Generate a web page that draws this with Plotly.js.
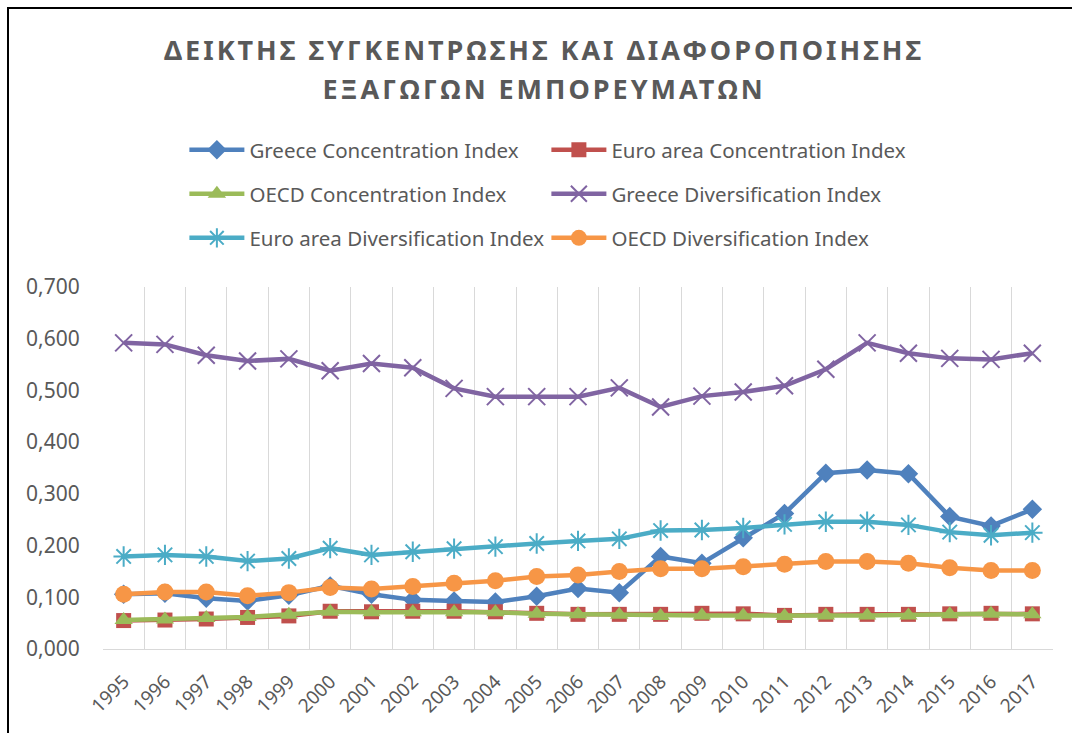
<!DOCTYPE html>
<html>
<head>
<meta charset="utf-8">
<script src="https://cdn.plot.ly/plotly-3.0.1.min.js"></script>
<style>
  html, body { margin: 0; padding: 0; background: #fff; overflow: hidden; }
  #chart { width: 1072px; height: 733px; position: absolute; left: 0; top: 0; }
  #frame { position: absolute; left: 7px; top: 7px; width: 2000px; height: 2000px;
           border-left: 2px solid #000; border-top: 2px solid #000; pointer-events: none; }
  .gtitle { letter-spacing: 3px; }
</style>
</head>
<body>
<div id="chart"></div>
<div id="frame"></div>
<script>
const years = [1995,1996,1997,1998,1999,2000,2001,2002,2003,2004,2005,2006,2007,2008,2009,2010,2011,2012,2013,2014,2015,2016,2017];
const yearLabels = years.map(String);

const greeceConcentration = [0.106,0.108,0.098,0.093,0.104,0.122,0.106,0.095,0.093,0.091,0.102,0.117,0.109,0.179,0.166,0.215,0.262,0.340,0.346,0.339,0.256,0.238,0.270];
const euroConcentration   = [0.055,0.056,0.058,0.061,0.064,0.073,0.072,0.073,0.073,0.072,0.069,0.067,0.067,0.067,0.069,0.068,0.065,0.067,0.067,0.067,0.068,0.069,0.068];
const oecdConcentration   = [0.056,0.057,0.060,0.062,0.066,0.072,0.071,0.071,0.071,0.071,0.068,0.067,0.066,0.064,0.065,0.065,0.064,0.065,0.065,0.065,0.067,0.068,0.067];
const greeceDiversification = [0.592,0.589,0.568,0.557,0.561,0.538,0.552,0.544,0.504,0.488,0.488,0.488,0.505,0.468,0.489,0.497,0.509,0.541,0.592,0.572,0.562,0.560,0.572];
const euroDiversification   = [0.179,0.182,0.179,0.170,0.175,0.195,0.182,0.188,0.194,0.198,0.204,0.209,0.213,0.229,0.230,0.234,0.241,0.246,0.246,0.240,0.226,0.220,0.225];
const oecdDiversification   = [0.106,0.110,0.110,0.103,0.109,0.119,0.116,0.121,0.127,0.132,0.140,0.143,0.150,0.155,0.155,0.159,0.164,0.169,0.169,0.166,0.157,0.152,0.152];

const seriesNames = [
  'Greece Concentration Index',
  'Euro area Concentration Index',
  'OECD Concentration Index',
  'Greece Diversification Index',
  'Euro area Diversification Index',
  'OECD Diversification Index'
];

const LW = 4.5;
function tr(name, y, color, marker, legend) {
  return {
    type: 'scatter', mode: 'lines+markers', name: name, x: years, y: y,
    line: { color: color, width: LW },
    marker: Object.assign({ color: color }, marker),
    legend: legend,
    hoverinfo: 'skip'
  };
}

const traces = [
  tr(seriesNames[0], greeceConcentration, '#4F81BD', { symbol: 'diamond', size: 15 }, 'legend'),
  tr(seriesNames[1], euroConcentration, '#C0504D', { symbol: 'square', size: 15 }, 'legend'),
  tr(seriesNames[2], oecdConcentration, '#9BBB59', { symbol: 'triangle-up', size: 16 }, 'legend2'),
  tr(seriesNames[3], greeceDiversification, '#8064A2', { symbol: 'x-thin-open', size: 17, line: { color: '#8064A2', width: 2 } }, 'legend2'),
  tr(seriesNames[4], euroDiversification, '#4BACC6', { symbol: 'asterisk-open', size: 17, line: { color: '#4BACC6', width: 2 } }, 'legend3'),
  tr(seriesNames[5], oecdDiversification, '#F79646', { symbol: 'circle', size: 17 }, 'legend3')
];

const legendFont = { family: 'Noto Sans, Open Sans, sans-serif', size: 20.5, color: '#595959' };
function leg(y) {
  return {
    orientation: 'h', xref: 'container', yref: 'container',
    x: 0.172, xanchor: 'left', y: y, yanchor: 'middle',
    entrywidth: 292, entrywidthmode: 'pixels', itemwidth: 55,
    font: legendFont, bgcolor: 'rgba(0,0,0,0)', traceorder: 'normal'
  };
}

const layout = {
  width: 1072, height: 733,
  margin: { l: 103, r: 19, t: 287, b: 84 },
  paper_bgcolor: '#ffffff', plot_bgcolor: '#ffffff',
  separators: ',.',
  showlegend: true,
  title: {
    text: 'ΔΕΙΚΤΗΣ ΣΥΓΚΕΝΤΡΩΣΗΣ ΚΑΙ ΔΙΑΦΟΡΟΠΟΙΗΣΗΣ<br>ΕΞΑΓΩΓΩΝ ΕΜΠΟΡΕΥΜΑΤΩΝ',
    font: { family: 'Noto Sans, Open Sans, sans-serif', size: 27, color: '#595959', weight: 'bold' },
    x: 0.5075, xanchor: 'center', xref: 'container',
    y: 1 - 60 / 733, yanchor: 'top', yref: 'container'
  },
  xaxis: {
    range: [1994.5, 2017.5],
    tickmode: 'array', tickvals: years, ticktext: yearLabels,
    tickangle: -45,
    tickfont: { family: 'Noto Sans, Open Sans, sans-serif', size: 19, color: '#595959' },
    showgrid: false, zeroline: false,
    showline: true, linecolor: '#D9D9D9', linewidth: 1,
    ticks: 'outside', ticklen: 13, tickcolor: 'rgba(0,0,0,0)',
    minor: { tickmode: 'linear', tick0: 1994.5, dtick: 1, showgrid: true, gridcolor: '#D9D9D9', gridwidth: 1, ticks: '' }
  },
  yaxis: {
    range: [0, 0.7], tickmode: 'linear', tick0: 0, dtick: 0.1, tickformat: '.3f',
    tickfont: { family: 'Noto Sans, Open Sans, sans-serif', size: 21, color: '#595959' },
    showgrid: false, zeroline: false, showline: false,
    ticks: 'outside', ticklen: 18, tickcolor: 'rgba(0,0,0,0)'
  },
  legend: leg(1 - 150 / 733),
  legend2: leg(1 - 194 / 733),
  legend3: leg(1 - 238 / 733)
};

Plotly.newPlot('chart', traces, layout, { displayModeBar: false, staticPlot: true }).then(function () {
  const lines = document.querySelectorAll('.gtitle tspan.line');
  if (lines.length > 1) lines[1].setAttribute('dy', '1.45em');
});
</script>
</body>
</html>
